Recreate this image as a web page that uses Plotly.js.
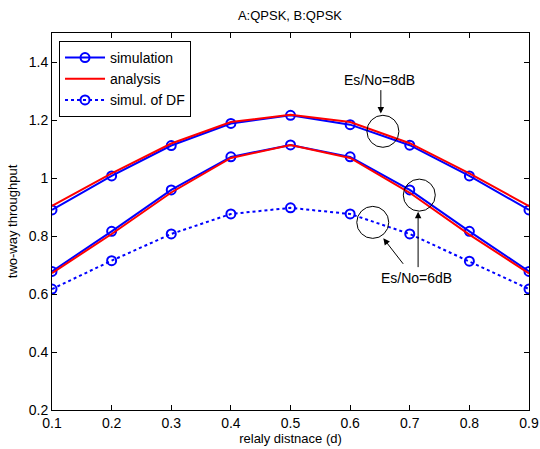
<!DOCTYPE html>
<html><head><meta charset="utf-8">
<script src="https://cdn.plot.ly/plotly-3.0.1.min.js"></script>
<style>html,body{margin:0;padding:0;background:#fff}#g{width:540px;height:449px}</style>
</head><body><div id="g"></div>
<script>
const d = [0.1, 0.2, 0.3, 0.4, 0.5, 0.6, 0.7, 0.8, 0.9];
const sim8 = [0.890, 1.007, 1.112, 1.188, 1.216, 1.184, 1.113, 1.007, 0.890];
const ana8 = [0.904, 1.016, 1.119, 1.193, 1.218, 1.193, 1.120, 1.016, 0.903];
const sim6 = [0.678, 0.816, 0.959, 1.073, 1.114, 1.073, 0.959, 0.816, 0.678];
const ana6 = [0.672, 0.807, 0.950, 1.069, 1.114, 1.069, 0.949, 0.805, 0.671];
const df6  = [0.617, 0.715, 0.807, 0.876, 0.897, 0.876, 0.807, 0.713, 0.617];
const legendNames = ['simulation', 'analysis', 'simul. of DF'];
const circleCenters = {x: [0.655, 0.716, 0.638], y: [1.161, 0.941, 0.847]};

const FONT = 'Liberation Sans, Arial, sans-serif';
const blue = '#0000ff', red = '#ff0000';
const mk = {symbol: 'circle-open', size: 9, color: blue, line: {width: 2, color: blue}};

const traces = [
  {x: d, y: sim8, mode: 'lines+markers', name: legendNames[0], line: {color: blue, width: 2}, marker: mk},
  {x: d, y: ana8, mode: 'lines', name: legendNames[1], line: {color: red, width: 2}},
  {x: d, y: sim6, mode: 'lines+markers', name: legendNames[0], showlegend: false, line: {color: blue, width: 2}, marker: mk},
  {x: d, y: ana6, mode: 'lines', name: legendNames[1], showlegend: false, line: {color: red, width: 2}},
  {x: d, y: df6, mode: 'lines+markers', name: legendNames[2], line: {color: blue, width: 2, dash: 'dot'}, marker: mk}
];

const shapes = circleCenters.x.map((cx, i) => ({
  type: 'circle', xref: 'x', yref: 'y', xsizemode: 'pixel', ysizemode: 'pixel',
  xanchor: cx, yanchor: circleCenters.y[i], x0: -16, x1: 16, y0: -16, y1: 16,
  line: {color: 'black', width: 1}
}));

const arrowBase = {xref: 'x', yref: 'y', axref: 'pixel', ayref: 'pixel', text: '', showarrow: true,
  arrowhead: 2, arrowsize: 1.3, arrowwidth: 1, arrowcolor: 'black'};
const annotations = [
  {xref: 'x', yref: 'y', x: 0.650, y: 1.339, text: 'Es/No=8dB', showarrow: false, font: {family: FONT, size: 14, color: 'black'}},
  Object.assign({}, arrowBase, {x: 0.6515, y: 1.222, ax: 0, ay: -25}),
  {xref: 'x', yref: 'y', x: 0.7114, y: 0.656, text: 'Es/No=6dB', showarrow: false, font: {family: FONT, size: 14, color: 'black'}},
  Object.assign({}, arrowBase, {x: 0.6557, y: 0.792, ax: 21, ay: 27}),
  Object.assign({}, arrowBase, {x: 0.714, y: 0.884, ax: 0, ay: 57})
];

const axisCommon = {showgrid: false, zeroline: false, showline: true, linecolor: 'black', linewidth: 1,
  mirror: 'ticks', ticks: 'inside', ticklen: 5, tickcolor: 'black', tickfont: {family: FONT, size: 14, color: 'black'}};

const layout = {
  width: 540, height: 449,
  margin: {l: 52, r: 11, t: 33, b: 39},
  paper_bgcolor: 'white', plot_bgcolor: 'white',
  title: {text: 'A:QPSK, B:QPSK', font: {family: FONT, size: 13, color: 'black'}, x: 0.537, xanchor: 'center', y: 0.965, yanchor: 'middle'},
  xaxis: Object.assign({}, axisCommon, {range: [0.1, 0.9], tickvals: d, ticktext: d.map(v => v.toFixed(1)),
    title: {text: 'relaly distnace (d)', font: {family: FONT, size: 13, color: 'black'}, standoff: 4}}),
  yaxis: Object.assign({}, axisCommon, {range: [0.2, 1.5], tickvals: [0.2, 0.4, 0.6, 0.8, 1, 1.2, 1.4],
    title: {text: 'two-way throughput', font: {family: FONT, size: 13, color: 'black'}, standoff: 8}}),
  legend: {x: 0.0147, y: 0.979, xanchor: 'left', yanchor: 'top', bgcolor: 'white', bordercolor: 'black', borderwidth: 1,
    font: {family: FONT, size: 14, color: 'black'}, itemwidth: 40, tracegroupgap: 0},
  shapes: shapes, annotations: annotations, showlegend: true
};

Plotly.newPlot('g', traces, layout, {staticPlot: true, displayModeBar: false});
</script></body></html>
